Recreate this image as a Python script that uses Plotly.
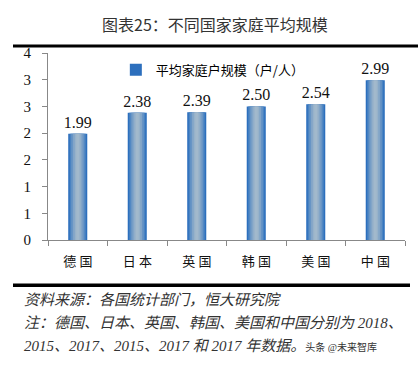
import plotly.graph_objects as go

categories = ["德国", "日本", "英国", "韩国", "美国", "中国"]
values = [1.99, 2.38, 2.39, 2.50, 2.54, 2.99]
label_texts = ["1.99", "2.38", "2.39", "2.50", "2.54", "2.99"]
ytick_vals = [0, 0.5, 1, 1.5, 2, 2.5, 3, 3.5]
ytick_text = ["0", "1", "1", "2", "2", "3", "3", "4"]
series_name = "平均家庭户规模（户/人）"

FONT = "Liberation Serif, Noto Sans CJK SC, serif"
CJK = "Noto Sans CJK SC, Liberation Serif, sans-serif"

# gradient emulation: overlaid bars from wide (dark edge) to narrow (light centre)
layers = [
    (0.32, "#2c6fbd"),
    (0.27, "#4a83c2"),
    (0.22, "#6895c5"),
    (0.16, "#82a5c8"),
    (0.10, "#97b2ca"),
    (0.05, "#a2b9cc"),
]

fig = go.Figure()
for i, (w, c) in enumerate(layers):
    fig.add_trace(go.Bar(
        x=categories, y=values, width=w,
        marker=dict(color=c, line=dict(width=0)),
        name=series_name, showlegend=(i == 0),
        text=label_texts if i == 0 else None,
        textposition="outside" if i == 0 else "none",
        constraintext="none",
        textfont=dict(family=FONT, size=16, color="#111"),
        cliponaxis=False, hoverinfo="skip",
    ))

fig.update_layout(
    width=418, height=369,
    margin=dict(l=48, r=13, t=53, b=129),
    paper_bgcolor="white", plot_bgcolor="white",
    barmode="overlay",
    showlegend=True,
    legend=dict(x=0.19, y=0.91, xanchor="left", yanchor="middle",
                font=dict(family=CJK, size=13, color="#000"),
                bgcolor="rgba(0,0,0,0)", itemwidth=30, tracegroupgap=0),
)
fig.update_xaxes(
    type="category", showline=True, linecolor="#888", linewidth=1,
    ticks="outside", tickson="boundaries", ticklen=5, tickcolor="#888",
    ticklabelstandoff=9,
    tickvals=categories, ticktext=[c[0] + "\u2005" + c[1] for c in categories],
    tickfont=dict(family=CJK, size=13, color="#111"),
    showgrid=False, zeroline=False,
)
fig.update_yaxes(
    range=[0, 3.5], tickvals=ytick_vals, ticktext=ytick_text,
    showline=True, linecolor="#888", linewidth=1,
    ticks="outside", ticklen=5, tickcolor="#888", ticklabelstandoff=8,
    tickfont=dict(family=FONT, size=15, color="#111"),
    showgrid=False, zeroline=False,
)

def py(pix):
    return (369 - 129 - pix) / 187

def px(pix):
    return (pix - 48) / 357

fig.add_annotation(text="图表25：不同国家家庭平均规模", xref="paper", yref="paper",
                   x=px(215), y=py(24), xanchor="center", yanchor="middle",
                   showarrow=False, font=dict(family=CJK, size=16, color="#333"))

fig.add_shape(type="line", xref="paper", yref="paper", x0=px(13), x1=px(418),
              y0=py(46), y1=py(46), line=dict(color="black", width=3), layer="above")
fig.add_shape(type="line", xref="paper", yref="paper", x0=px(13), x1=px(410),
              y0=py(285), y1=py(285), line=dict(color="black", width=3), layer="above")
# backup rule drawn as a filled annotation box
fig.add_annotation(text=" ", xref="paper", yref="paper", x=px(13), y=py(285),
                   xanchor="left", yanchor="middle", showarrow=False,
                   width=397, height=3, bgcolor="black", borderpad=0, borderwidth=0,
                   font=dict(size=1))

notes = [
    ("<i>资料来源：各国统计部门，恒大研究院</i>", 300),
    ("<i>注：德国、日本、英国、韩国、美国和中国分别为 2018、</i>", 323),
    ("<i>2015、2017、2015、2017 和 2017 年数据。</i><span style='font-size:10px'>头条 @未来智库</span>", 346),
]
for t, y in notes:
    fig.add_annotation(text=t, xref="paper", yref="paper", x=px(22), y=py(y),
                       xanchor="left", yanchor="middle", showarrow=False,
                       font=dict(family="Liberation Serif, Noto Sans CJK SC", size=15, color="#333"))

fig.write_html("out.html", config={"displayModeBar": False},
               post_script="document.body.style.margin='0';")
